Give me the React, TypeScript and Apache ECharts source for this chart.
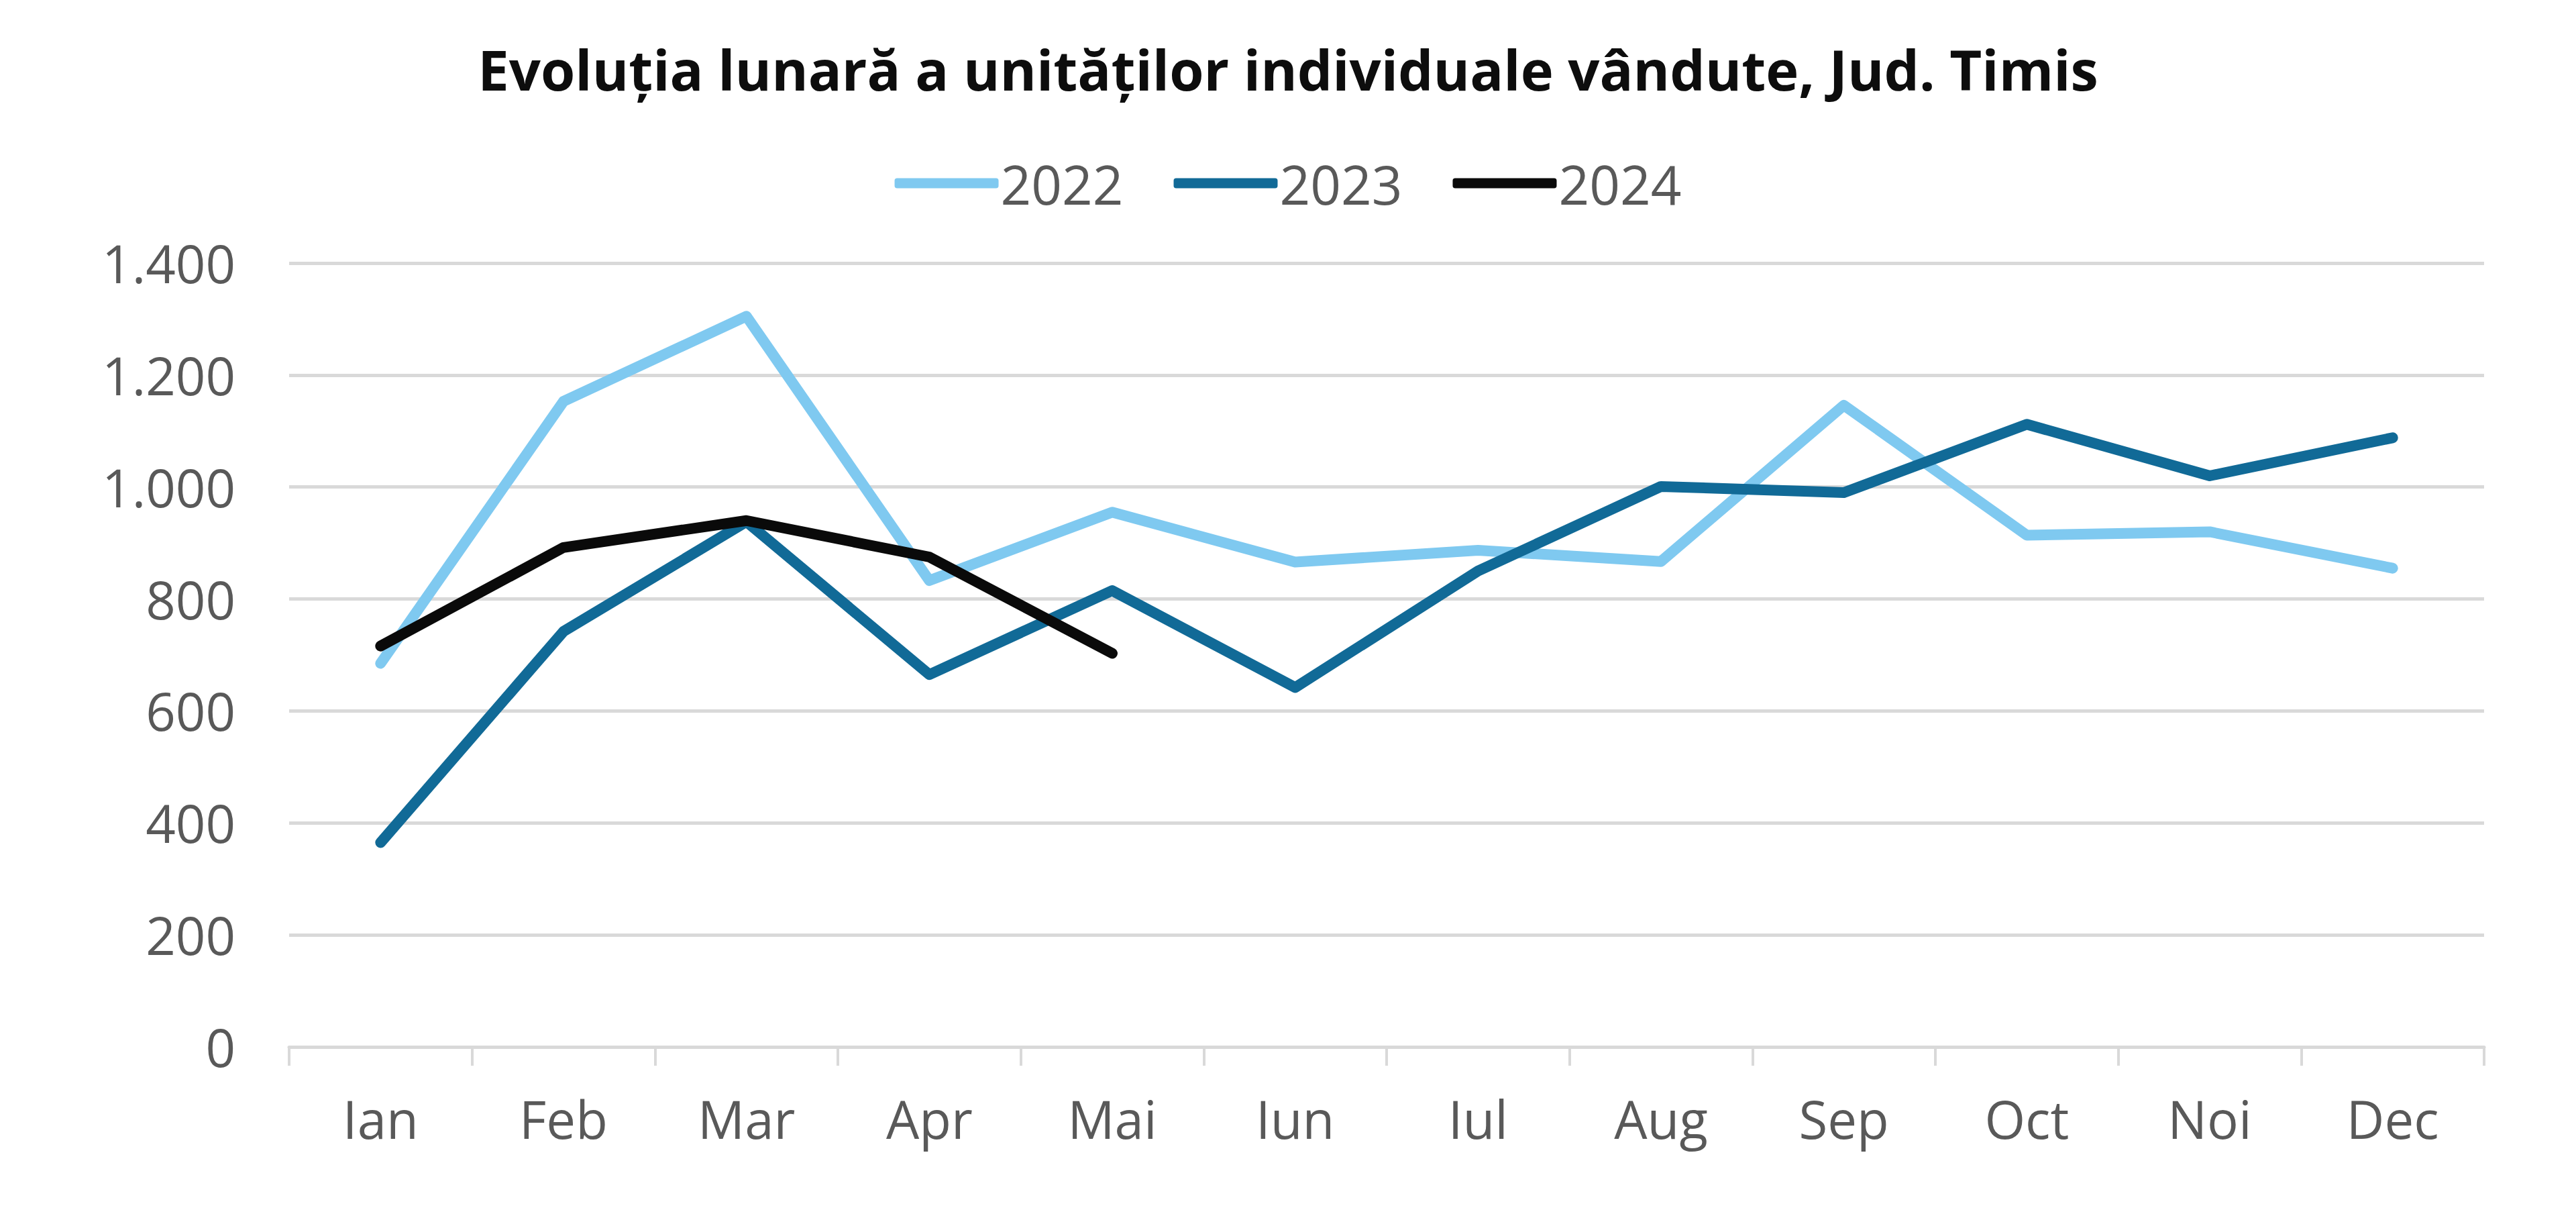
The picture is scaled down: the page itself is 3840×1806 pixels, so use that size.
import React, { useEffect, useRef } from "react";
import * as echarts from "echarts";

const months = ["Ian", "Feb", "Mar", "Apr", "Mai", "Iun", "Iul", "Aug", "Sep", "Oct", "Noi", "Dec"];
const seriesNames = ["2022", "2023", "2024"];
const values2022 = [685, 1153, 1305, 833, 955, 866, 887, 867, 1146, 914, 920, 855];
const values2023 = [365, 742, 938, 665, 815, 642, 850, 1001, 990, 1112, 1020, 1088];
const values2024 = [716, 892, 940, 875, 703];
const colors = ["#7FC9F0", "#116A97", "#0A0A0A"];

const fmt = (v: number) => String(v).replace(/\B(?=(\d{3})+(?!\d))/g, ".");

export default function App() {
  const ref = useRef<HTMLDivElement>(null);
  useEffect(() => {
    document.body.style.margin = "0";
    const chart = echarts.init(ref.current!, null, { renderer: "svg" });
    const font = "'Open Sans', 'Noto Sans', sans-serif";
    const data = [values2022, values2023, values2024];
    chart.setOption({
      animation: false,
      backgroundColor: "#ffffff",
      title: {
        text: "Evoluția lunară a unităților individuale vândute, Jud. Timis",
        left: "center",
        top: 56,
        textStyle: { fontFamily: font, fontWeight: "bold", fontSize: 83, color: "#0d0d0d" },
      },
      legend: {
        top: 228,
        left: "center",
        itemWidth: 155,
        itemHeight: 15,
        itemGap: 75,
        icon: "roundRect",
        textStyle: { fontFamily: font, fontSize: 80, color: "#595959", padding: [0, 0, 0, -2] },
        data: seriesNames,
      },
      grid: { left: 431, right: 137, top: 392, bottom: 246 },
      xAxis: {
        type: "category",
        data: months,
        boundaryGap: true,
        axisLine: { lineStyle: { color: "#d9d9d9", width: 5 } },
        axisTick: { show: true, length: 28, lineStyle: { color: "#d9d9d9", width: 4 } },
        axisLabel: { fontFamily: font, fontSize: 78, color: "#595959", margin: 68 },
      },
      yAxis: {
        type: "value",
        min: 0,
        max: 1400,
        interval: 200,
        axisLine: { show: false },
        axisTick: { show: false },
        splitLine: { lineStyle: { color: "#d9d9d9", width: 5 } },
        axisLabel: { fontFamily: font, fontSize: 78, color: "#595959", margin: 80, formatter: fmt },
      },
      series: seriesNames.map((name, i) => ({
        name,
        type: "line",
        data: data[i],
        symbol: "none",
        color: colors[i],
        lineStyle: { width: 16, color: colors[i], cap: "round", join: "round" },
        z: 2 + (i === 2 ? 2 : 0),
      })),
    });
    return () => chart.dispose();
  }, []);
  return <div ref={ref} style={{ width: 3840, height: 1806 }} />;
}
